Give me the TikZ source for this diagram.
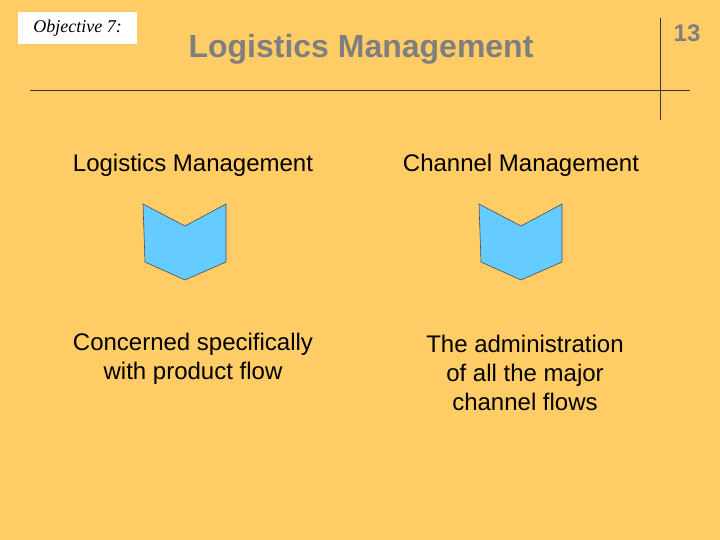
\documentclass[tikz,border=0pt]{standalone}
\usepackage{fontspec}
\setmainfont{Liberation Sans}
\newfontfamily\serifit{Liberation Serif}
\definecolor{bg}{HTML}{FFCC66}
\definecolor{chev}{HTML}{66CCFF}
\definecolor{ttl}{HTML}{7F7F7F}
\begin{document}
\begin{tikzpicture}[x=1pt,y=-1pt,
  body/.style={font=\fontsize{24}{29}\selectfont,align=center,text=black},
  chevshape/.style={fill=chev,draw=black!70,line width=0.6pt}]
\useasboundingbox (0,0) rectangle (720,540);
\fill[bg] (0,0) rectangle (720,540);
\node[fill=white,minimum width=119pt,minimum height=32pt,inner sep=0pt,font=\serifit\itshape\fontsize{18}{21}\selectfont] (obj) at (77.5,28) {Objective 7:};
\node[text=ttl,font=\bfseries\fontsize{32}{36}\selectfont] (title) at (361,49) {Logistics Management};
\node[text=ttl,font=\bfseries\fontsize{24}{28}\selectfont] (num) at (687,33) {13};
\coordinate (hl) at (30,90); \coordinate (hr) at (690,90);
\coordinate (vt) at (660,18); \coordinate (vb) at (660,120);
\draw[black!80,line width=0.8pt] (hl) -- (hr);
\draw[black!80,line width=0.8pt] (vt) -- (vb);
\node[body] (l1) at (193,165) {Logistics Management};
\node[body] (r1) at (521,165) {Channel Management};
\node[body] (l2) at (193,359) {Concerned specifically\\with product flow};
\node[body] (r2) at (525,373) {The administration\\of all the major\\channel flows};
\foreach \dx/\n in {0/a,336/b}{
  \draw[chevshape] (143+\dx,204) -- (185+\dx,226) -- (226+\dx,204) -- (226+\dx,262) -- (185+\dx,280) -- (145+\dx,262) -- cycle;
}
\end{tikzpicture}
\end{document}
